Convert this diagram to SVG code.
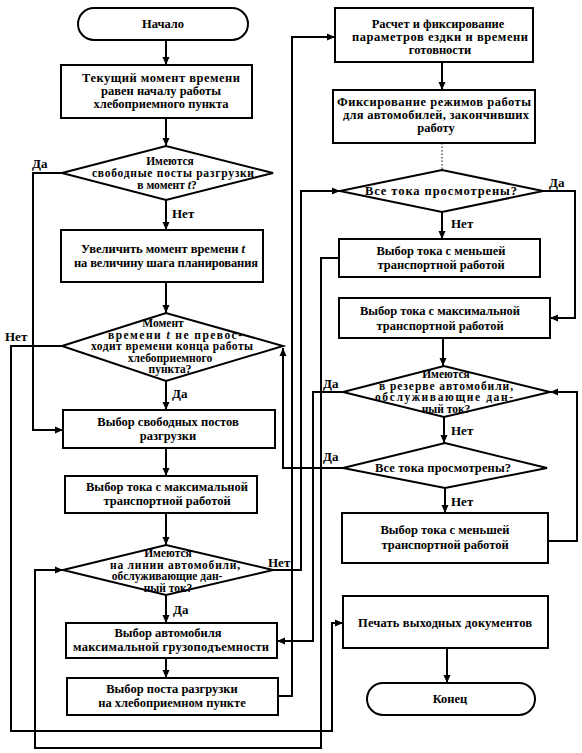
<svg xmlns="http://www.w3.org/2000/svg" width="582" height="753" viewBox="0 0 582 753">
<defs>
<marker id="ah" markerUnits="userSpaceOnUse" markerWidth="9" markerHeight="8" refX="8" refY="4" orient="auto">
<path d="M0,0.5 L8,4 L0,7.5 z" fill="#000"/>
</marker>
<style>
.n{fill:#fff;stroke:#000;stroke-width:2}
.t{font-family:"Liberation Serif","Times New Roman",serif;font-size:12.5px;font-weight:bold;fill:#000;text-anchor:middle}
.d{font-family:"Liberation Serif","Times New Roman",serif;font-size:11.5px;font-weight:bold;fill:#000;text-anchor:middle}
.l{font-family:"Liberation Serif","Times New Roman",serif;font-size:13px;font-weight:bold;fill:#000}
.c{fill:none;stroke:#000;stroke-width:2;marker-end:url(#ah)}
.cf{fill:none;stroke:#000;stroke-width:1;stroke-dasharray:1.5 2}
</style>
</defs>
<rect width="582" height="753" fill="#fff"/>
<g id="connectors">
<path class="c" d="M166 40 V65"/>
<path class="c" d="M166 118 V146"/>
<path class="c" d="M166 200 V230"/>
<path class="c" d="M166 282 V313"/>
<path class="c" d="M166 381 V410"/>
<path class="c" d="M166 448 V476"/>
<path class="c" d="M166 513 V545"/>
<path class="c" d="M166 595 V623"/>
<path class="c" d="M166 658 V678"/>
<path class="c" d="M62 173 H33 V430 H63"/>
<path class="c" d="M62 346 H11 V731 H332 V623 H343"/>
<path class="c" d="M339 258 H321 V748 H35 V570 H63"/>
<path class="c" d="M273 570 H301 V191 H340"/>
<path class="c" d="M278 696 H292 V37 H335"/>
<path class="c" d="M343 392 H313 V641 H277"/>
<path class="c" d="M343 468 H283 V348"/>
<path class="c" d="M442 62 V90"/>
<path class="cf" d="M442 143 V170"/>
<path class="c" d="M543 191 H575 V318 H550"/>
<path class="c" d="M442 212 V239"/>
<path class="c" d="M443 338 V366"/>
<path class="c" d="M548 541 H577 V392 H550"/>
<path class="c" d="M444 417 V443"/>
<path class="c" d="M445 488 V513"/>
<path class="c" d="M447 648 V683"/>
</g>
<g id="labels">
<text class="l" x="32" y="168">Да</text>
<text class="l" x="172" y="218">Нет</text>
<text class="l" x="5" y="341">Нет</text>
<text class="l" x="172" y="398">Да</text>
<text class="l" x="268" y="567">Нет</text>
<text class="l" x="173" y="614">Да</text>
<text class="l" x="549" y="187">Да</text>
<text class="l" x="451" y="228">Нет</text>
<text class="l" x="323" y="388">Да</text>
<text class="l" x="451" y="435">Нет</text>
<text class="l" x="323" y="461">Да</text>
<text class="l" x="451" y="506">Нет</text>
</g>
<g id="start">
<rect class="n" x="78" y="8" width="170" height="32" rx="16"/>
<text class="t" x="163" y="28">Начало</text>
</g>
<g id="b1">
<rect class="n" x="61" y="65" width="191" height="53"/>
<text class="t" x="161" y="82" textLength="158">Текущий момент времени</text>
<text class="t" x="161" y="95">равен началу работы</text>
<text class="t" x="161" y="108">хлебоприемного пункта</text>
</g>
<g id="d1">
<polygon class="n" points="62,173 166,146 273,173 166,200"/>
<text class="d" x="170" y="165">Имеются</text>
<text class="d" x="173" y="177" textLength="162">свободные посты разгрузки</text>
<text class="d" x="167" y="189">в момент <tspan font-style="italic">t</tspan>?</text>
</g>
<g id="b2">
<rect class="n" x="61" y="230" width="202" height="52"/>
<text class="t" x="163" y="253">Увеличить момент времени <tspan font-style="italic">t</tspan></text>
<text class="t" x="166" y="267" textLength="184">на величину шага планирования</text>
</g>
<g id="d2">
<polygon class="n" points="62,346 166,313 283,346 166,381"/>
<text class="d" x="163" y="327">Момент</text>
<text class="d" x="175" y="338.5" textLength="134">времени <tspan font-style="italic">t</tspan> не превос-</text>
<text class="d" x="172" y="350" textLength="162">ходит времени конца работы</text>
<text class="d" x="170" y="361.5">хлебоприемного</text>
<text class="d" x="170" y="373">пункта?</text>
</g>
<g id="l3">
<rect class="n" x="63" y="410" width="212" height="38"/>
<text class="t" x="168" y="426">Выбор свободных постов</text>
<text class="t" x="168" y="440">разгрузки</text>
</g>
<g id="l4">
<rect class="n" x="65" y="476" width="192" height="37"/>
<text class="t" x="167" y="491" textLength="162">Выбор тока с максимальной</text>
<text class="t" x="167" y="505">транспортной работой</text>
</g>
<g id="d3">
<polygon class="n" points="63,570 166,545 273,570 166,595"/>
<text class="d" x="168" y="557">Имеются</text>
<text class="d" x="175" y="568.5" textLength="130">на линии автомобили,</text>
<text class="d" x="167" y="580">обслуживающие дан-</text>
<text class="d" x="168" y="591.5">ный ток?</text>
</g>
<g id="l6">
<rect class="n" x="66" y="623" width="211" height="35"/>
<text class="t" x="168" y="637">Выбор автомобиля</text>
<text class="t" x="171" y="651" textLength="196">максимальной грузоподъемности</text>
</g>
<g id="l7">
<rect class="n" x="67" y="678" width="211" height="37"/>
<text class="t" x="172" y="693">Выбор поста разгрузки</text>
<text class="t" x="172" y="707">на хлебоприемном пункте</text>
</g>
<g id="r1">
<rect class="n" x="335" y="8" width="198" height="54"/>
<text class="t" x="438" y="28">Расчет и фиксирование</text>
<text class="t" x="440" y="41" textLength="176">параметров ездки и времени</text>
<text class="t" x="440" y="54">готовности</text>
</g>
<g id="r2">
<rect class="n" x="333" y="90" width="202" height="53"/>
<text class="t" x="434" y="106" textLength="194">Фиксирование режимов работы</text>
<text class="t" x="436" y="119" textLength="186">для автомобилей, закончивших</text>
<text class="t" x="436" y="132">работу</text>
</g>
<g id="r3">
<polygon class="n" points="340,191 442,170 543,191 442,212"/>
<text class="t" x="441" y="195" textLength="152">Все тока просмотрены?</text>
</g>
<g id="r4">
<rect class="n" x="339" y="239" width="201" height="38"/>
<text class="t" x="441" y="255">Выбор тока с меньшей</text>
<text class="t" x="441" y="269">транспортной работой</text>
</g>
<g id="r5">
<rect class="n" x="339" y="298" width="211" height="40"/>
<text class="t" x="440" y="315" textLength="160">Выбор тока с максимальной</text>
<text class="t" x="440" y="330">транспортной работой</text>
</g>
<g id="r6">
<polygon class="n" points="343,392 444,366 550,392 444,417"/>
<text class="d" x="446" y="378">Имеются</text>
<text class="d" x="446" y="389.5" textLength="134">в резерве автомобили,</text>
<text class="d" x="444" y="401" textLength="138">обслуживающие дан-</text>
<text class="d" x="446" y="412.5">ный ток?</text>
</g>
<g id="r7">
<polygon class="n" points="343,468 445,443 547,468 445,488"/>
<text class="t" x="443" y="472" textLength="136">Все тока просмотрены?</text>
</g>
<g id="r8">
<rect class="n" x="342" y="513" width="206" height="50"/>
<text class="t" x="445" y="534">Выбор тока с меньшей</text>
<text class="t" x="445" y="549">транспортной работой</text>
</g>
<g id="r9">
<rect class="n" x="343" y="596" width="205" height="52"/>
<text class="t" x="445" y="627" textLength="174">Печать выходных документов</text>
</g>
<g id="end">
<rect class="n" x="367" y="683" width="168" height="32" rx="16"/>
<text class="t" x="450" y="703">Конец</text>
</g>
</svg>
